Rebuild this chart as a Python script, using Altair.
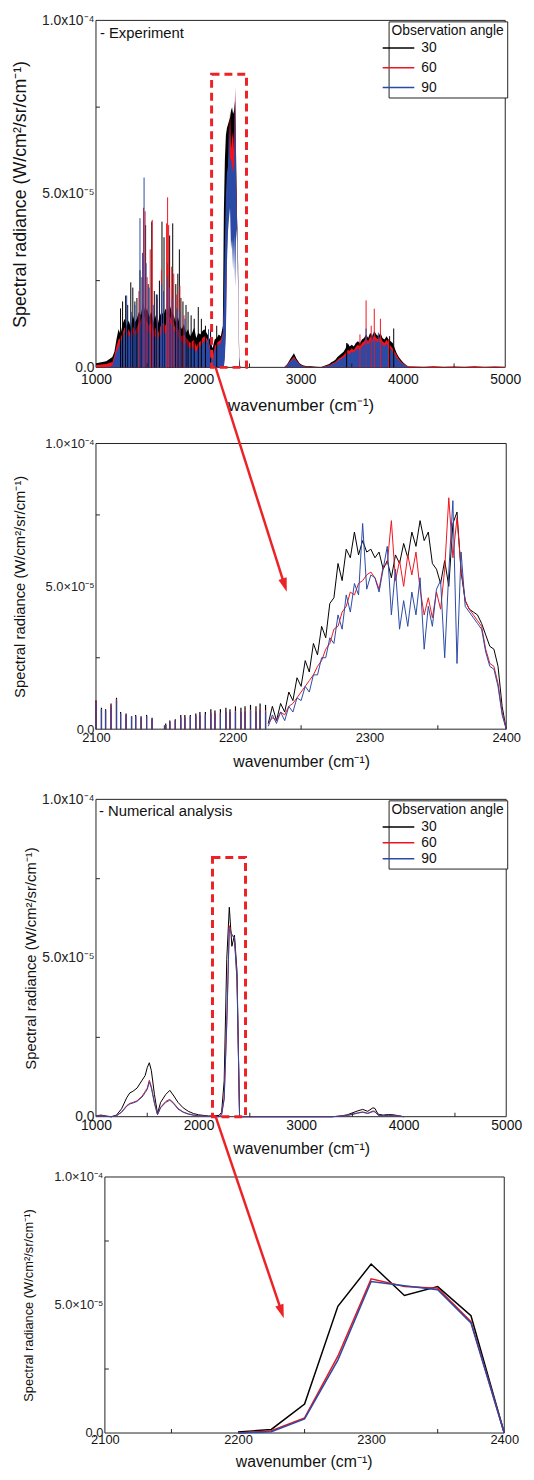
import altair as alt
import pandas as pd

FONT = "Liberation Sans"
SERIES = ["30", "60", "90"]
COLORS = ["#000000", "#f0141e", "#2a4aa5"]
ANN_RED = "#ec2227"
UNIT = 1e-5

Y_TICKS = [0, 5e-5, 1e-4]
Y_MINOR = [2.5e-5, 7.5e-5]
X_TICKS_WIDE = [1000, 2000, 3000, 4000, 5000]
X_MINOR_WIDE = [1500, 2500, 3500, 4500]
X_TICKS_ZOOM = [2100, 2200, 2300, 2400]
X_MINOR_ZOOM = [2150, 2250, 2350]

# ---------------- Experiment (1000-5000 cm-1), values in 1e-5 ----------------
EXP_A_WN = [1000, 1050, 1100, 1150, 1160, 1180, 1200, 1220, 1240, 1260, 1280, 1300, 1320, 1340,
            1360, 1380, 1400, 1420, 1440, 1460, 1480, 1500, 1520, 1540, 1560, 1580, 1600, 1620,
            1640, 1660, 1680, 1700, 1720, 1740, 1760, 1780, 1800, 1820, 1840, 1860, 1880, 1900,
            1920, 1940, 1960, 1980, 2000, 2020, 2040, 2060, 2080, 2100, 2120, 2140, 2160, 2180,
            2200, 2220, 2240]
EXP_A_30 = [0.12, 0.15, 0.18, 0.28, 0.3, 0.45, 0.8, 1.1, 0.95, 1.25, 1.4, 1.2, 1.35, 1.15, 1.5,
            1.3, 1.4, 1.6, 1.5, 1.9, 1.6, 1.7, 1.45, 1.6, 1.3, 1.5, 1.2, 1.45, 1.6, 1.5, 1.7, 1.55,
            1.8, 1.6, 1.5, 1.3, 1.45, 1.2, 1.1, 1.25, 1.0, 1.1, 0.9, 1.0, 1.15, 0.85, 1.0, 0.95,
            1.05, 1.1, 1.0, 0.9, 0.75, 0.55, 0.8, 0.85, 0.95, 0.9, 1.2]
EXP_A_60 = [0.06, 0.08, 0.1, 0.15, 0.15, 0.35, 0.6, 0.8, 0.85, 1.0, 1.15, 1.0, 1.1, 0.95, 1.2,
            1.05, 1.15, 1.3, 1.35, 1.6, 1.4, 1.3, 1.2, 1.3, 1.05, 1.15, 0.95, 1.1, 1.25, 1.3, 1.2,
            1.4, 1.5, 1.35, 1.25, 1.1, 1.15, 0.95, 0.9, 0.95, 0.85, 0.8, 0.7, 0.75, 0.8, 0.6, 0.7,
            0.75, 0.85, 0.9, 0.85, 0.75, 0.55, 0.3, 0.6, 0.7, 0.75, 0.8, 1.0]
EXP_A_90 = [0.0, 0.0, 0.01, 0.03, 0.05, 0.25, 0.45, 0.55, 0.75, 0.8, 1.05, 0.85, 0.95, 0.8, 1.0,
            0.9, 0.95, 1.1, 1.25, 1.4, 1.2, 1.05, 0.95, 1.0, 0.85, 0.9, 0.8, 0.9, 1.0, 1.1, 0.95,
            1.15, 1.3, 1.2, 1.1, 1.0, 0.9, 0.8, 0.75, 0.65, 0.7, 0.6, 0.55, 0.6, 0.5, 0.45, 0.55,
            0.6, 0.7, 0.75, 0.8, 0.65, 0.45, 0.15, 0.5, 0.6, 0.65, 0.7, 0.95]
EXP_B_WN = [2250, 2260, 2270, 2280, 2290, 2300, 2310, 2320, 2330, 2340, 2350, 2360, 2370, 2380,
            2390, 2400, 2410, 2420]
EXP_B_30_HI = [4.5, 6.0, 6.7, 6.9, 7.0, 7.1, 7.2, 7.4, 7.5, 7.3, 7.4, 7.7, 6.0, 4.1, 2.9, 0.3, 0.0, 0.0]
EXP_B_30_LO = [0.0, 1.0, 3.0, 4.2, 5.3, 5.8, 5.4, 5.2, 5.6, 5.4, 4.8, 5.3, 4.4, 3.9, 2.7, 0.0, 0.0, 0.0]
EXP_B_60_HI = [1.6, 2.5, 3.5, 4.9, 5.6, 6.2, 7.4, 6.3, 6.6, 6.8, 6.2, 8.1, 5.3, 4.1, 2.5, 0.2, 0.0, 0.0]
EXP_B_60_LO = [0.0, 0.5, 1.2, 3.3, 4.2, 4.8, 5.0, 4.6, 4.9, 3.8, 4.0, 4.3, 4.3, 3.8, 2.2, 0.0, 0.0, 0.0]
EXP_B_90_HI = [2.0, 3.6, 5.0, 5.6, 5.8, 7.0, 6.0, 6.0, 5.8, 5.6, 5.9, 8.0, 5.2, 4.1, 2.6, 0.2, 0.0, 0.0]
EXP_B_90_LO = [0.0, 0.3, 1.0, 3.0, 3.9, 4.3, 4.6, 3.4, 3.7, 2.8, 3.8, 2.3, 4.0, 3.6, 2.2, 0.0, 0.0, 0.0]
EXP_C_WN = [2500, 2840, 2870, 2900, 2935, 2960, 2990, 3020, 3060, 3100, 3150, 3200,
            3280, 3300, 3320, 3340, 3360, 3380, 3400, 3420, 3440, 3460, 3480, 3500, 3520, 3540,
            3560, 3580, 3600, 3620, 3640, 3660, 3680, 3700, 3720, 3740, 3760, 3780, 3800, 3820,
            3840, 3860, 3880, 3900, 3920, 3940, 3960, 3980, 4000, 4020, 4040, 4060,
            4100, 4200, 4300, 4400, 4500, 4600, 4700, 4800, 4900, 5000]
EXP_C_30 = [0.0, 0.0, 0.1, 0.25, 0.41, 0.25, 0.12, 0.06, 0.03, 0.03, 0.02, 0.01,
            0.1, 0.15, 0.18, 0.22, 0.3, 0.35, 0.4, 0.45, 0.55, 0.7, 0.6, 0.65, 0.6, 0.7, 0.75,
            0.7, 0.8, 0.85, 0.95, 0.85, 1.0, 0.9, 1.05, 0.95, 0.9, 1.0, 0.85, 0.8, 0.9, 0.8,
            0.75, 0.7, 0.55, 0.4, 0.3, 0.22, 0.15, 0.1, 0.05, 0.02,
            0.01, 0.01, 0.0, 0.01, 0.0, 0.01, 0.0, 0.0, 0.01, 0.0]
EXP_C_60 = [0.0, 0.0, 0.08, 0.2, 0.31, 0.2, 0.1, 0.04, 0.02, 0.01, 0.01, 0.0,
            0.07, 0.1, 0.13, 0.16, 0.22, 0.27, 0.3, 0.35, 0.42, 0.5, 0.48, 0.55, 0.5, 0.6, 0.65,
            0.6, 0.7, 0.75, 0.85, 0.75, 0.9, 0.8, 0.95, 0.85, 0.8, 0.9, 0.75, 0.7, 0.8, 0.7,
            0.62, 0.55, 0.45, 0.35, 0.25, 0.18, 0.12, 0.08, 0.05, 0.03,
            0.03, 0.02, 0.04, 0.02, 0.03, 0.02, 0.04, 0.02, 0.03, 0.02]
EXP_C_90 = [0.0, 0.0, 0.06, 0.17, 0.27, 0.17, 0.08, 0.03, 0.01, 0.0, 0.0, 0.0,
            0.05, 0.08, 0.1, 0.13, 0.18, 0.22, 0.25, 0.28, 0.33, 0.4, 0.38, 0.45, 0.42, 0.5, 0.55,
            0.5, 0.6, 0.65, 0.72, 0.65, 0.78, 0.7, 0.82, 0.75, 0.7, 0.78, 0.65, 0.6, 0.68, 0.58,
            0.52, 0.45, 0.36, 0.27, 0.2, 0.14, 0.09, 0.06, 0.03, 0.0,
            0.0, 0.0, 0.0, 0.0, 0.0, 0.0, 0.0, 0.0, 0.0, 0.0]
SPK_30_WN = [1240, 1260, 1290, 1310, 1340, 1360, 1380, 1400, 1430, 1450, 1485, 1510, 1545, 1570,
             1590, 1620, 1645, 1665, 1700, 1720, 1750, 1780, 1800, 1815, 1830, 1850, 1880, 1900,
             1930, 1960, 2000, 2030, 2070, 2120, 2180, 3450, 3870, 3910]
SPK_30_H = [1.7, 1.9, 2.07, 1.8, 2.45, 2.3, 1.9, 2.0, 2.8, 2.6, 4.1, 2.4, 4.2, 2.2, 2.1, 2.5, 4.2,
            3.75, 3.0, 3.8, 4.15, 2.4, 2.7, 3.4, 2.0, 1.9, 1.8, 1.6, 1.5, 1.4, 1.74, 1.4, 1.2, 1.1,
            1.2, 0.7, 0.9, 1.12]
SPK_60_WN = [1420, 1465, 1480, 1500, 1530, 1550, 1600, 1640, 1690, 1700, 1710, 1740, 1760, 1790,
             1820, 1860, 3580, 3640, 3690, 3720, 3780, 3860]
SPK_60_H = [2.2, 4.6, 4.5, 2.6, 3.4, 4.25, 2.0, 2.8, 4.15, 4.9, 4.1, 2.9, 2.7, 2.1, 2.35, 1.5,
            0.95, 1.93, 1.2, 1.69, 1.4, 0.8]
SPK_90_WN = [1300, 1345, 1380, 1430, 1455, 1470, 1490, 1520, 1560, 1600, 1640, 1660, 1700, 1720,
             1745, 1790, 1820, 1870, 2100, 3640, 3700, 3760]
SPK_90_H = [2.07, 1.6, 1.8, 4.3, 3.3, 5.47, 3.0, 2.3, 1.8, 2.1, 2.4, 2.2, 2.6, 2.3, 2.0, 1.7, 1.6,
            1.4, 1.1, 1.12, 0.95, 1.0]

# ---------------- Experiment zoom (2100-2400 cm-1) ----------------
COMB_WN = [2100, 2104, 2107, 2111, 2115, 2118, 2122, 2126, 2129, 2133, 2137, 2141,
           2151, 2154, 2158, 2162, 2165, 2169, 2173, 2176, 2180, 2184, 2187, 2191, 2195, 2198,
           2202, 2206, 2209, 2213, 2217, 2220, 2224]
COMB_30 = [1.0, 0.75, 0.7, 0.9, 1.1, 0.6, 0.55, 0.45, 0.5, 0.45, 0.5, 0.4,
           0.2, 0.3, 0.35, 0.5, 0.5, 0.5, 0.55, 0.6, 0.6, 0.7, 0.65, 0.7, 0.75, 0.7, 0.8, 0.75,
           0.8, 0.85, 0.8, 0.9, 0.85]
COMB_60 = [0.95, 0.7, 0.65, 0.85, 1.05, 0.55, 0.5, 0.45, 0.45, 0.4, 0.45, 0.35,
           0.15, 0.25, 0.3, 0.42, 0.42, 0.45, 0.48, 0.5, 0.52, 0.58, 0.56, 0.58, 0.62, 0.6, 0.64,
           0.62, 0.64, 0.68, 0.64, 0.7, 0.66]
COMB_90 = [0.9, 0.7, 0.65, 0.8, 1.0, 0.55, 0.5, 0.45, 0.45, 0.4, 0.45, 0.35,
           0.15, 0.25, 0.3, 0.4, 0.4, 0.45, 0.45, 0.5, 0.5, 0.55, 0.55, 0.55, 0.6, 0.6, 0.6, 0.6,
           0.6, 0.65, 0.6, 0.65, 0.6]
ZOOM_WN = [2226, 2229, 2232, 2235, 2238, 2241, 2244, 2247, 2250, 2253, 2256, 2259, 2262, 2265,
           2268, 2271, 2274, 2277, 2280, 2283, 2286, 2289, 2292, 2295, 2298, 2301, 2304, 2307,
           2310, 2313, 2316, 2319, 2322, 2325, 2328, 2331, 2334, 2337, 2340, 2343, 2346, 2349,
           2352, 2355, 2358, 2361, 2364, 2367, 2370, 2373, 2376, 2379, 2382, 2385, 2388, 2391,
           2394, 2397, 2400]
ZOOM_30 = [0.2, 0.8, 0.3, 0.9, 0.6, 1.3, 1.0, 1.8, 1.5, 2.4, 2.0, 3.0, 2.6, 3.6, 3.2, 4.4, 4.6,
           5.8, 5.2, 6.3, 6.0, 6.9, 6.1, 6.6, 6.2, 6.3, 6.0, 6.2, 5.6, 5.9, 5.3, 6.1, 5.8, 6.5,
           6.0, 6.9, 6.4, 7.3, 6.6, 6.9, 5.8, 5.6, 5.1, 5.9, 5.0, 7.2, 7.6, 5.5, 4.5, 4.2, 4.1,
           4.0, 3.7, 3.3, 2.9, 2.8, 2.2, 0.8, 0.0]
ZOOM_60 = [0.2, 0.4, 0.3, 0.6, 0.5, 0.8, 0.9, 1.1, 1.3, 1.5, 1.7, 1.9, 2.2, 2.4, 2.8, 3.0, 3.5,
           3.6, 4.1, 4.3, 4.8, 4.7, 5.1, 5.2, 5.4, 5.5, 5.3, 4.9, 5.7, 5.8, 7.3, 5.2, 5.9, 5.0,
           6.1, 5.4, 6.2, 4.9, 4.0, 4.6, 3.9, 4.8, 4.2, 5.6, 8.1, 6.0, 7.4, 5.6, 4.5, 4.2, 4.0,
           3.8, 3.6, 2.8, 2.3, 2.2, 1.6, 0.6, 0.0]
ZOOM_90 = [0.1, 0.5, 0.2, 0.6, 0.3, 0.8, 0.6, 1.1, 1.0, 1.5, 1.3, 1.9, 1.9, 2.5, 2.5, 3.2, 3.0,
           4.0, 3.5, 4.7, 4.1, 5.1, 4.7, 7.2, 4.9, 5.4, 5.3, 4.8, 5.6, 6.4, 4.0, 5.6, 3.5, 4.5,
           3.6, 4.8, 4.0, 5.3, 2.8, 4.3, 3.6, 4.9, 5.2, 2.5, 5.5, 8.0, 2.3, 6.2, 4.3, 4.1, 3.9,
           3.7, 3.5, 2.7, 2.2, 2.1, 1.5, 0.5, 0.0]

# ---------------- Numerical analysis (1000-4000 cm-1) ----------------
NUM_WN = [1000, 1050, 1100, 1150, 1200, 1250, 1300, 1330, 1360, 1400, 1450, 1480, 1500, 1520,
          1540, 1570, 1600, 1630, 1680, 1720, 1760, 1800, 1850, 1900, 1950, 2000, 2100, 2200,
          2225, 2250, 2275, 2300, 2325, 2350, 2375, 2400, 2500, 3300, 3350, 3400, 3450, 3500,
          3550, 3600, 3650, 3700, 3720, 3750, 3800, 3850, 3900, 3950, 4000]
NUM_30 = [0.03, 0.05, 0.02, 0.0, 0.05, 0.25, 0.6, 0.75, 0.8, 0.9, 1.15, 1.3, 1.55, 1.7, 1.45,
          0.7, 0.1, 0.45, 0.7, 0.83, 0.65, 0.45, 0.28, 0.17, 0.1, 0.06, 0.02, 0.04, 0.14, 1.13,
          4.95, 6.6, 5.37, 5.72, 4.58, 0.0, 0.0, 0.0, 0.01, 0.03, 0.06, 0.12, 0.18, 0.23, 0.17,
          0.28, 0.26, 0.08, 0.05, 0.07, 0.06, 0.03, 0.0]
NUM_60 = [0.02, 0.04, 0.01, 0.0, 0.03, 0.15, 0.35, 0.42, 0.45, 0.5, 0.65, 0.8, 0.9, 1.15, 0.95,
          0.45, 0.07, 0.3, 0.48, 0.55, 0.42, 0.26, 0.15, 0.09, 0.05, 0.03, 0.01, 0.0, 0.09, 0.59,
          3.0, 6.02, 5.72, 5.66, 4.35, 0.0, 0.0, 0.0, 0.01, 0.02, 0.04, 0.08, 0.12, 0.15, 0.11,
          0.18, 0.17, 0.05, 0.03, 0.05, 0.04, 0.02, 0.0]
NUM_90 = [0.02, 0.03, 0.01, 0.0, 0.03, 0.14, 0.33, 0.4, 0.43, 0.48, 0.62, 0.76, 0.86, 1.1, 0.9,
          0.42, 0.06, 0.28, 0.45, 0.52, 0.4, 0.24, 0.14, 0.08, 0.05, 0.03, 0.01, 0.0, 0.05, 0.55,
          2.85, 5.92, 5.75, 5.6, 4.3, 0.0, 0.0, 0.0, 0.01, 0.02, 0.04, 0.07, 0.11, 0.14, 0.1,
          0.16, 0.15, 0.05, 0.03, 0.04, 0.03, 0.02, 0.0]

# annotations (data coordinates)
BOX1 = [2130, 2471, 0, 8.45e-5]
BOX3 = [2136, 2458, 0, 8.17e-5]
ARROW2 = [2187.5, 12.66e-5, 2238.2, 5.0e-5, 2239.5, 4.81e-5, 162.4]
ARROW4 = [2183.2, 12.36e-5, 2233.0, 4.70e-5, 2234.4, 4.48e-5, 161.3]

# ---------------- tables ----------------
ONE = pd.DataFrame({"k": [0]})

exp_rows = []
for s, ha, hb, lb, hc in [("30", EXP_A_30, EXP_B_30_HI, EXP_B_30_LO, EXP_C_30),
                          ("60", EXP_A_60, EXP_B_60_HI, EXP_B_60_LO, EXP_C_60),
                          ("90", EXP_A_90, EXP_B_90_HI, EXP_B_90_LO, EXP_C_90)]:
    wn = EXP_A_WN + EXP_B_WN + EXP_C_WN
    hi = ha + hb + hc
    lo = [0.0] * len(EXP_A_WN) + lb + [0.0] * len(EXP_C_WN)
    for w, h, l in zip(wn, hi, lo):
        exp_rows.append({"wn": w, "hi": h * UNIT, "lo": l * UNIT, "series": s})
df_exp = pd.DataFrame(exp_rows)


def pairs(groups, key):
    rows = []
    for s, xs, vs in groups:
        for w, v in zip(xs, vs):
            rows.append({"wn": w, key: v * UNIT, "series": s})
    return pd.DataFrame(rows)


df_spk = pairs([("30", SPK_30_WN, SPK_30_H), ("60", SPK_60_WN, SPK_60_H),
                ("90", SPK_90_WN, SPK_90_H)], "h")
df_comb = pairs([("30", COMB_WN, COMB_30), ("60", COMB_WN, COMB_60), ("90", COMB_WN, COMB_90)], "h")
df_zoom = pairs([("30", ZOOM_WN, ZOOM_30), ("60", ZOOM_WN, ZOOM_60), ("90", ZOOM_WN, ZOOM_90)], "v")
df_num = pairs([("30", NUM_WN, NUM_30), ("60", NUM_WN, NUM_60), ("90", NUM_WN, NUM_90)], "v")
df_num4 = df_num[(df_num["wn"] >= 2200) & (df_num["wn"] <= 2400)]

CSCALE = alt.Scale(domain=SERIES, range=COLORS)


def sx(d):
    return alt.Scale(domain=d, nice=False, zero=False)


def sy(top):
    return alt.Scale(domain=[0, top], nice=False, zero=False)


def x_axis(lab_fs, lab_pad, title_fs, tx, ty, values):
    return alt.Axis(values=values, format="d", title="wavenumber (cm⁻¹)", labelFontSize=lab_fs,
                    labelPadding=lab_pad, labelFlush=False, labelOverlap=False, labelColor="#111",
                    labelFont=FONT, ticks=False, domain=False, grid=False, titleFont=FONT,
                    titleFontSize=title_fs, titleFontWeight="normal", titleColor="#111",
                    titleX=tx, titleY=ty, titleAlign="center", titleBaseline="middle")


def y_axis(sep, lab_fs, title_fs, tx, ty, offset=0):
    expr = ("datum.value < 1e-6 ? '0.0' : (datum.value < 7e-5 ? '5.0" + sep +
            "10⁻⁵' : '1.0" + sep + "10⁻⁴')")
    return alt.Axis(values=Y_TICKS, labelExpr=expr, title="Spectral radiance (W/cm²/sr/cm⁻¹)",
                    labelFontSize=lab_fs, labelPadding=2, labelFlush=False, labelOverlap=False,
                    labelColor="#222", labelFont=FONT, ticks=False, domain=False, grid=False,
                    titleFont=FONT, titleFontSize=title_fs, titleFontWeight="normal",
                    titleColor="#111", titleAngle=270, titleX=tx, titleY=ty, titleAlign="center",
                    titleBaseline="middle", offset=offset)


def legend(ly, rowpad):
    return alt.Legend(title="Observation angle", orient="none", legendX=296, legendY=ly,
                      direction="vertical", padding=3, strokeColor="#222", fillColor="#ffffff",
                      cornerRadius=0, titleFont=FONT, titleFontSize=14, titleFontWeight="normal",
                      titleColor="#111", titlePadding=3, labelFont=FONT, labelFontSize=14,
                      labelColor="#111", symbolType="M-3.2,0H3.2", symbolSize=100,
                      symbolStrokeWidth=1.5, labelOffset=16, rowPadding=rowpad)


class Panel:
    def __init__(self, X, Y, XA, YA, leg):
        self.X, self.Y, self.XA, self.YA, self.leg = X, Y, XA, YA, leg

    def xf(self, f):
        return alt.X(f, scale=self.X, axis=self.XA)

    def yf(self, f, **kw):
        return alt.Y(f, scale=self.Y, axis=self.YA, **kw)

    def xd(self, v):
        return alt.XDatum(datum=v, type="quantitative", scale=self.X, axis=self.XA)

    def yd(self, v):
        return alt.YDatum(datum=v, type="quantitative", scale=self.Y, axis=self.YA)

    def col(self):
        return alt.Color("series:N", scale=CSCALE, legend=self.leg)

    def frame(self, xd, yd):
        return alt.Chart(ONE).mark_rect(fillOpacity=0, stroke="#222", strokeWidth=1).encode(
            x=self.xd(xd[0]), x2=alt.X2Datum(datum=xd[1]),
            y=self.yd(yd[0]), y2=alt.Y2Datum(datum=yd[1]))

    def area(self, s):
        return alt.Chart(df_exp).transform_filter(alt.datum.series == s).mark_area(
            interpolate="linear", opacity=1).encode(
            x=self.xf("wn:Q"), y=self.yf("hi:Q", stack=None), y2="lo:Q", color=self.col())

    def spikes(self, df, s, w):
        return alt.Chart(df).transform_filter(alt.datum.series == s).mark_rule(
            strokeWidth=w).encode(
            x=self.xf("wn:Q"), y=self.yf("h:Q"), y2=alt.Y2Datum(datum=0), color=self.col())

    def line(self, df, s, w):
        return alt.Chart(df).transform_filter(alt.datum.series == s).mark_line(
            strokeWidth=w, interpolate="linear").encode(
            x=self.xf("wn:Q"), y=self.yf("v:Q"), color=self.col())

    def yminor(self, x0):
        return alt.Chart(pd.DataFrame({"t": Y_MINOR})).mark_rule(
            color="#222", strokeWidth=1).encode(
            y=self.yf("t:Q"), x=alt.value(x0), x2=alt.value(x0 + 4))

    def xminor(self, vals, H):
        return alt.Chart(pd.DataFrame({"t": vals})).mark_rule(
            color="#222", strokeWidth=1).encode(
            x=self.xf("t:Q"), y=alt.value(H), y2=alt.value(H - 4))

    def box(self, b):
        return alt.Chart(ONE).mark_rect(fillOpacity=0, stroke=ANN_RED, strokeWidth=3,
                                        strokeDash=[8, 5]).encode(
            x=self.xd(b[0]), x2=alt.X2Datum(datum=b[1]),
            y=self.yd(b[2]), y2=alt.Y2Datum(datum=b[3]))

    def arrow(self, a):
        shaft = alt.Chart(ONE).mark_rule(color=ANN_RED, strokeWidth=2.5, clip=False).encode(
            x=self.xd(a[0]), y=self.yd(a[1]),
            x2=alt.X2Datum(datum=a[2]), y2=alt.Y2Datum(datum=a[3]))
        head = alt.Chart(ONE).mark_point(shape="M0,0L0.5,1.6L-0.5,1.6Z", filled=True, size=306,
                                         angle=a[6], color=ANN_RED, opacity=1,
                                         clip=False).encode(x=self.xd(a[4]), y=self.yd(a[5]))
        return [shaft, head]


def label(text, x, y):
    return alt.Chart(pd.DataFrame({"t": [text]})).mark_text(
        align="left", baseline="middle", fontSize=15, font=FONT, color="#111").encode(
        text="t:N", x=alt.value(x), y=alt.value(y))


# ---------------- panel 1 ----------------
W1, H1 = 414, 351
P1 = Panel(sx([1000, 5000]), sy(1e-4),
           x_axis(14, 5, 17, W1 / 2, 39, X_TICKS_WIDE), y_axis("x", 14, 18, -76, H1 / 2),
           legend(1, 6))
p1 = alt.layer(
    P1.frame([1000, 5000], [0, 1e-4]),
    *[P1.area(s) for s in SERIES],
    *[P1.spikes(df_spk, s, 1) for s in SERIES],
    P1.yminor(0), P1.xminor(X_MINOR_WIDE, H1),
    P1.box(BOX1),
    label("- Experiment", 4, 13),
).properties(width=W1, height=H1)

# ---------------- panel 2 ----------------
W2, H2, E2 = 415, 305, 16
P2 = Panel(sx([2100, 2400]), sy(1e-4 * H2 / (H2 - E2)),
           x_axis(13, 2, 16, W2 / 2, 33, X_TICKS_ZOOM),
           y_axis("×", 13, 15, -77, E2 + (H2 - E2) / 2), None)
p2 = alt.layer(
    P2.frame([2100, 2400], [0, 1e-4]),
    *[P2.spikes(df_comb, s, 1.2) for s in SERIES],
    *[P2.line(df_zoom, s, 1) for s in SERIES],
    P2.yminor(0), P2.xminor(X_MINOR_ZOOM, H2),
    *P2.arrow(ARROW2),
).properties(width=W2, height=H2)

# ---------------- panel 3 ----------------
W3, H3, E3 = 415, 331, 10
P3 = Panel(sx([1000, 5000]), sy(1e-4 * H3 / (H3 - E3)),
           x_axis(14, 2, 16, W3 / 2, 32, X_TICKS_WIDE),
           y_axis("x", 14, 15, -66, E3 + (H3 - E3) / 2), legend(E3 + 1, 2))
p3 = alt.layer(
    P3.frame([1000, 5000], [0, 1e-4]),
    *[P3.line(df_num, s, 1) for s in SERIES],
    P3.yminor(0), P3.xminor(X_MINOR_WIDE, H3),
    P3.box(BOX3),
    label("- Numerical analysis", 3, E3 + 12),
).properties(width=W3, height=H3)

# ---------------- panel 4 ----------------
W4, H4 = 413, 259
P4 = Panel(sx([2093.3, 2400]), sy(1e-4),
           x_axis(13, 1, 16, 210, 29, X_TICKS_ZOOM),
           y_axis("×", 13, 13, -77, H4 / 2, offset=-9), None)
p4 = alt.layer(
    P4.frame([2100, 2400], [0, 1e-4]),
    *[P4.line(df_num4, s, 1.5) for s in SERIES],
    P4.yminor(9), P4.xminor(X_MINOR_ZOOM, H4),
    *P4.arrow(ARROW4),
).properties(width=W4, height=H4)

chart = alt.vconcat(p1, p2, p3, p4, spacing=61, bounds="flush").resolve_scale(
    color="independent", x="independent", y="independent"
).resolve_legend(color="independent").properties(
    padding={"left": 4, "top": -3, "right": 4, "bottom": 4}
).configure_view(stroke=None)

chart.save("out.html", embed_options={"renderer": "svg", "actions": False})
